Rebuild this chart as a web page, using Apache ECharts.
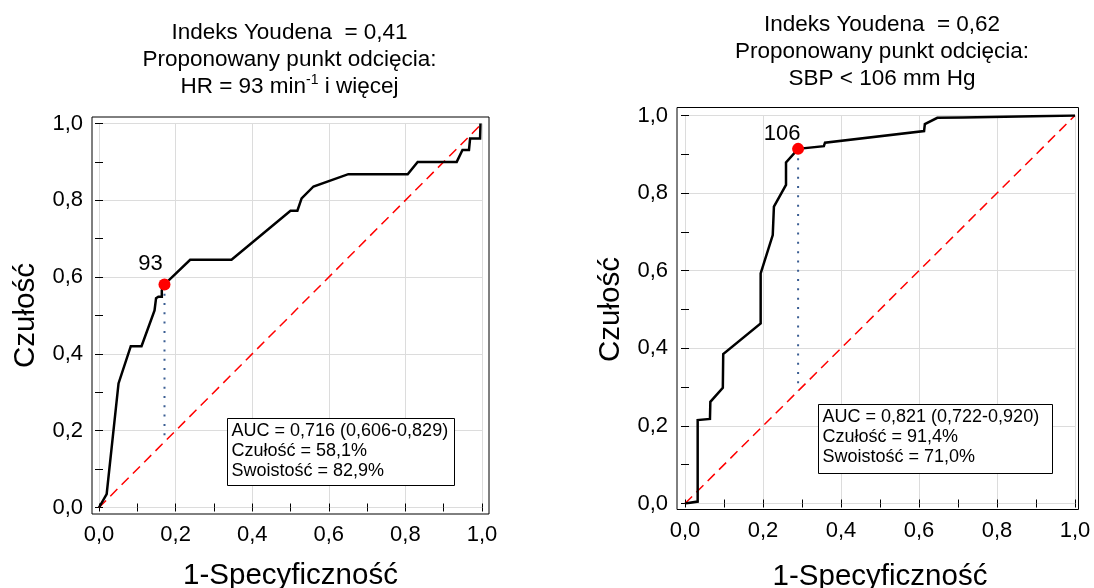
<!DOCTYPE html>
<html>
<head>
<meta charset="utf-8">
<script src="https://cdn.jsdelivr.net/npm/echarts@6/dist/echarts.min.js"></script>
<style>
  html, body { margin: 0; padding: 0; background: #fff; }
  #chart { width: 1094px; height: 588px; }
</style>
</head>
<body>
<div id="chart"></div>
<script>
// ---- data ----
// ROC curve for heart rate (x = 1-specificity, y = sensitivity)
const hrRoc = [
  [0, 0], [0.02, 0.035], [0.051, 0.323], [0.055, 0.328], [0.083, 0.42], [0.111, 0.42],
  [0.145, 0.513], [0.149, 0.517], [0.149, 0.545], [0.155, 0.549], [0.164, 0.549],
  [0.164, 0.566], [0.171, 0.581], [0.238, 0.645], [0.346, 0.645], [0.5, 0.773],
  [0.518, 0.773], [0.529, 0.805], [0.56, 0.836], [0.651, 0.868], [0.806, 0.868],
  [0.832, 0.9], [0.934, 0.9], [0.949, 0.931], [0.966, 0.931], [0.969, 0.961],
  [0.995, 0.961], [0.996, 1.0]
];
const hrCutoff = [0.171, 0.581];       // 1-specificity 17,1%, sensitivity 58,1%
const hrCutoffLabel = '93';
const hrTitle = 'Indeks Youdena  = 0,41\nProponowany punkt odcięcia:\nHR = 93 min{sup|-1} i więcej';
const hrStats = ['AUC = 0,716 (0,606-0,829)', 'Czułość = 58,1%', 'Swoistość = 82,9%'];

// ROC curve for systolic blood pressure
const sbpRoc = [
  [0, 0], [0.0325, 0.005], [0.0325, 0.215], [0.064, 0.218], [0.065, 0.262], [0.097, 0.298],
  [0.098, 0.385], [0.194, 0.464], [0.194, 0.593], [0.225, 0.692], [0.228, 0.765],
  [0.259, 0.821], [0.259, 0.879], [0.29, 0.914], [0.356, 0.921], [0.359, 0.93],
  [0.613, 0.96], [0.615, 0.978], [0.647, 0.994], [0.712, 0.995], [0.714, 0.998], [1, 1]
];
const sbpCutoff = [0.29, 0.914];       // 1-specificity 29,0%, sensitivity 91,4%
const sbpCutoffLabel = '106';
const sbpTitle = 'Indeks Youdena  = 0,62\nProponowany punkt odcięcia:\nSBP < 106 mm Hg';
const sbpStats = ['AUC = 0,821 (0,722-0,920)', 'Czułość = 91,4%', 'Swoistość = 71,0%'];

// reference line of a non-informative test
const chanceLine = [[0, 0], [1, 1]];
const tickLabels = ['0,0', '0,2', '0,4', '0,6', '0,8', '1,0'];
const xAxisName = '1-Specyficzność';
const yAxisName = 'Czułość';

// ---- layout ----
const FONT = '"Liberation Sans", Arial, Helvetica, sans-serif';
const panels = [
  {
    roc: hrRoc, cut: hrCutoff, cutLabel: hrCutoffLabel, title: hrTitle, stats: hrStats,
    grid: { left: 99, top: 123.5, width: 383, height: 384 },
    frame: { l: 7, r: 7, t: 6.5, b: 6.5 },
    titleX: 289.5, titleTop: 19,
    box: { x: 227.5, y: 418.5, w: 227, h: 67 },
    labelOffset: [-14, 2],
    xNameGap: 47, yNameGap: 51
  },
  {
    roc: sbpRoc, cut: sbpCutoff, cutLabel: sbpCutoffLabel, title: sbpTitle, stats: sbpStats,
    grid: { left: 685, top: 115.5, width: 390, height: 388 },
    frame: { l: 8, r: 3.5, t: 8, b: 6 },
    titleX: 882, titleTop: 11.5,
    box: { x: 818.5, y: 404.5, w: 234, h: 69 },
    labelOffset: [-16, 7],
    xNameGap: 52, yNameGap: 51
  }
];

const tickFmt = v => tickLabels[Math.round(v / 0.2)] ?? '';

const grids = [], xAxes = [], yAxes = [], series = [], titles = [], graphics = [];

panels.forEach((p, i) => {
  grids.push(Object.assign({ containLabel: false, outerBoundsMode: 'none' }, p.grid));

  const base = {
    type: 'value', min: 0, max: 1, interval: 0.2, gridIndex: i,
    axisLine: { show: false },
    axisTick: { show: true, inside: true, length: 4, lineStyle: { color: '#000', width: 1 } },
    minorTick: { show: true, splitNumber: 2, length: 4, lineStyle: { color: '#000', width: 1 } },
    splitLine: { show: false },
    axisLabel: { show: false }
  };
  const label = {
    show: true, formatter: tickFmt, color: '#000', fontSize: 22, fontFamily: FONT
  };
  const nameStyle = { color: '#000', fontSize: 29.5, fontFamily: FONT };
  const grid = { show: true, lineStyle: { color: '#dcdcdc', width: 1 } };

  // bottom & top x axes
  xAxes.push(Object.assign({}, base, {
    position: 'bottom', offset: p.frame.b,
    axisLabel: Object.assign({ margin: 10 }, label),
    splitLine: grid,
    name: xAxisName, nameLocation: 'middle', nameGap: p.xNameGap,
    nameTextStyle: nameStyle, nameMoveOverlap: false
  }));
  xAxes.push(Object.assign({}, base, { position: 'top', offset: p.frame.t }));
  // left & right y axes
  yAxes.push(Object.assign({}, base, {
    position: 'left', offset: p.frame.l,
    axisLabel: Object.assign({ margin: 9 }, label),
    splitLine: grid,
    name: yAxisName, nameLocation: 'middle', nameGap: p.yNameGap,
    nameTextStyle: nameStyle, nameMoveOverlap: false
  }));
  yAxes.push(Object.assign({}, base, { position: 'right', offset: p.frame.r }));

  const xi = i * 2, yi = i * 2;

  series.push({
    type: 'line', xAxisIndex: xi, yAxisIndex: yi, data: chanceLine,
    symbol: 'none', silent: true, z: 2,
    lineStyle: { color: '#ff0000', width: 1.5, type: [10, 6] }
  });
  series.push({
    type: 'line', xAxisIndex: xi, yAxisIndex: yi,
    data: [p.cut, [p.cut[0], p.cut[0]]],
    symbol: 'none', silent: true, z: 3,
    lineStyle: { color: '#3a5d92', width: 2, type: [2, 7.3] }
  });
  series.push({
    type: 'line', xAxisIndex: xi, yAxisIndex: yi, data: p.roc,
    symbol: 'none', silent: true, z: 4,
    lineStyle: { color: '#000', width: 2.5, join: 'miter' }
  });
  series.push({
    type: 'scatter', xAxisIndex: xi, yAxisIndex: yi, data: [p.cut],
    symbol: 'circle', symbolSize: 12, silent: true, z: 5,
    itemStyle: { color: '#ff0000', opacity: 1 },
    label: {
      show: true, formatter: p.cutLabel, position: 'top', distance: 5,
      offset: p.labelOffset, color: '#000', opacity: 1, fontSize: 22, fontFamily: FONT
    }
  });

  titles.push({
    text: p.title, left: p.titleX, top: p.titleTop, textAlign: 'center', padding: 0,
    textStyle: {
      color: '#000', fontSize: 22.5, fontWeight: 'normal', fontFamily: FONT, lineHeight: 27,
      rich: { sup: { fontSize: 14, verticalAlign: 'top', fontFamily: FONT, color: '#000' } }
    }
  });

  // plot frame
  const g = p.grid, f = p.frame;
  graphics.push({
    type: 'rect', silent: true, z: 50,
    shape: { x: g.left - f.l, y: g.top - f.t, width: g.width + f.l + f.r, height: g.height + f.t + f.b },
    style: { fill: 'none', stroke: '#000', lineWidth: 1 }
  });
  // statistics box
  graphics.push({
    type: 'rect', silent: true, z: 60,
    shape: { x: p.box.x, y: p.box.y, width: p.box.w, height: p.box.h },
    style: { fill: '#fff', stroke: '#000', lineWidth: 1 }
  });
  graphics.push({
    type: 'text', silent: true, z: 61,
    x: p.box.x + 4, y: p.box.y + 3,
    style: { text: p.stats.join('\n'), fill: '#000', font: '18px ' + FONT, lineHeight: 20 }
  });
});

const chart = echarts.init(document.getElementById('chart'), null, { renderer: 'canvas' });
chart.setOption({
  backgroundColor: '#fff',
  animation: false,
  title: titles,
  grid: grids,
  xAxis: xAxes,
  yAxis: yAxes,
  series: series,
  graphic: graphics
});
</script>
</body>
</html>
